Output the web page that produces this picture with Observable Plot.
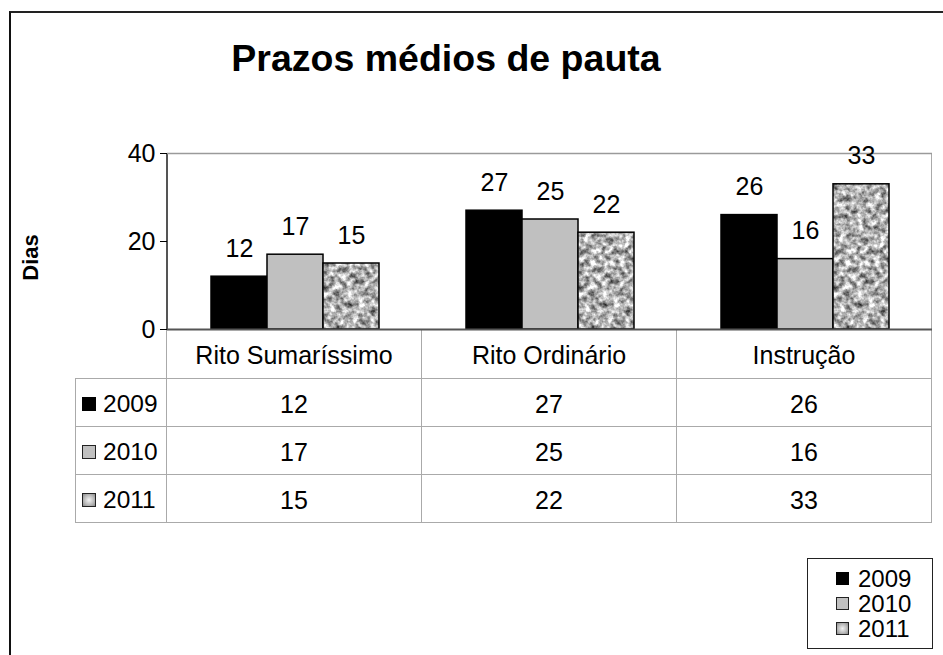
<!DOCTYPE html>
<html>
<head>
<meta charset="utf-8">
<script src="https://cdn.jsdelivr.net/npm/d3@7"></script>
<script src="https://cdn.jsdelivr.net/npm/@observablehq/plot@0.6"></script>
<style>
  html, body { margin: 0; padding: 0; background: #fff; }
  body { width: 943px; height: 655px; position: relative; overflow: hidden;
         font-family: "Liberation Sans", Arial, sans-serif; color: #000; }
  .abs { position: absolute; }
  #outer { left: 9px; top: 11px; width: 1200px; height: 1200px;
           border-left: 2px solid #111; border-top: 2px solid #222; }
  #title { left: 0; top: 40px; width: 892px; text-align: center;
           font-size: 37.5px; font-weight: bold; line-height: 37px; }
  #table { left: 75px; top: 329px; display: grid;
           grid-template-columns: 92px 255px 255px 255px;
           grid-template-rows: 50px 48px 48px 48px; }
  .cell { box-sizing: border-box; display: flex; align-items: center; justify-content: center;
          font-size: 25px; border-right: 1.5px solid #aaa; border-bottom: 1.5px solid #aaa; padding-top: 3px; }
  .rowhead { justify-content: flex-start; border-left: 1.5px solid #aaa; padding-left: 6px; font-size: 24.5px; }
  .sq { display: inline-block; box-sizing: border-box; width: 14px; height: 14px; margin-right: 7px; }
  #legend { left: 807px; top: 558px; width: 126px; height: 91px; box-sizing: border-box;
            border: 1.5px solid #222; display: flex; flex-direction: column; justify-content: center;
            padding-left: 28px; }
  .litem { display: flex; align-items: center; font-size: 24px; line-height: 25px; height: 25px; }
  .litem .sq { width: 13px; height: 13px; margin-right: 9px; }
  #chart { left: 0; top: 120px; }
  .vline { position: absolute; width: 0; }
</style>
</head>
<body>
<div id="outer" class="abs"></div>
<div id="title" class="abs">Prazos médios de pauta</div>
<div id="table" class="abs"></div>
<div id="legend" class="abs"></div>
<div class="vline" style="left:166px; top:153px; height:176px; border-left:2px solid #555;"></div>
<div class="vline" style="left:931px; top:153px; height:176px; border-left:1.5px solid #aaa;"></div>
<div id="chart" class="abs"></div>
<script>
// ---- Data ----
const categories = ["Rito Sumaríssimo", "Rito Ordinário", "Instrução"];
const years = ["2009", "2010", "2011"];
const values2009 = [12, 27, 26];
const values2010 = [17, 25, 16];
const values2011 = [15, 22, 33];
const yTicks = [0, 20, 40];
const yLabel = "Dias";

const series = [values2009, values2010, values2011];
const data = years.flatMap((yr, i) => categories.map((c, j) => ({cat: c, year: yr, value: series[i][j]})));

// swatch styles for table / legend
const swatch = {
  "2009": "background:#000;",
  "2010": "background:#c0c0c0; border:1.5px solid #222;",
  "2011": "background:radial-gradient(circle, #f4f4f4 0%, #bdbdbd 55%, #8a8a8a 100%); border:1.5px solid #222;"
};

// ---- Chart ----
const chart = Plot.plot({
  width: 943,
  height: 215,
  marginTop: 33,
  marginBottom: 6,
  marginLeft: 167,
  marginRight: 11,
  style: {fontFamily: "'Liberation Sans', Arial, sans-serif", fontSize: "25px", color: "#000",
          background: "transparent", overflow: "visible"},
  fx: {domain: categories, padding: 0, axis: null},
  x: {domain: years, paddingInner: 0, paddingOuter: 0.737, axis: null},
  y: {domain: [0, 40], ticks: yTicks, tickSize: 7, tickPadding: 5, label: null},
  color: {domain: years, range: ["#000000", "#c0c0c0", "url(#granite)"]},
  marks: [
    Plot.ruleY([40], {stroke: "#9a9a9a", strokeWidth: 1.5}),
    Plot.barY(data, {fx: "cat", x: "year", y: "value", fill: "year", stroke: "#000", strokeWidth: 1.5}),
    Plot.ruleY([0], {stroke: "#555", strokeWidth: 2}),
    Plot.text(data, {fx: "cat", x: "year", y: "value", text: d => String(d.value), dy: -28, fontSize: 25, fill: "#000"}),
    Plot.text([{cat: categories[0], t: yLabel}], {fx: "cat", text: "t", frameAnchor: "left", textAnchor: "middle",
      lineAnchor: "middle", rotate: -90, dx: -137, dy: 16, fontWeight: "bold", fontSize: 22, fill: "#000"})
  ]
});

// granite texture
const defs = d3.select(chart).insert("defs", ":first-child");
const filt = defs.append("filter").attr("id", "noiseF")
  .attr("x", 0).attr("y", 0).attr("width", "100%").attr("height", "100%")
  .attr("color-interpolation-filters", "sRGB");
filt.append("feTurbulence").attr("type", "fractalNoise").attr("baseFrequency", 0.17)
  .attr("numOctaves", 3).attr("seed", 7);
filt.append("feColorMatrix").attr("type", "matrix")
  .attr("values", "1 0 0 0 0  1 0 0 0 0  1 0 0 0 0  0 0 0 0 1");
const ct = filt.append("feComponentTransfer");
["feFuncR", "feFuncG", "feFuncB"].forEach(f => ct.append(f).attr("type", "linear").attr("slope", 1.35).attr("intercept", 0.02));
const pat = defs.append("pattern").attr("id", "granite").attr("patternUnits", "userSpaceOnUse")
  .attr("width", 300).attr("height", 300);
pat.append("rect").attr("width", 300).attr("height", 300).attr("fill", "#aaa").attr("filter", "url(#noiseF)");

document.getElementById("chart").appendChild(chart);

// ---- Data table ----
const table = document.getElementById("table");
function cell(html, cls, style) {
  const d = document.createElement("div");
  d.className = "cell " + (cls || "");
  if (style) d.setAttribute("style", style);
  d.innerHTML = html;
  table.appendChild(d);
}
cell("", "", "");
categories.forEach(c => cell(c));
years.forEach((yr, i) => {
  cell(`<span class="sq" style="${swatch[yr]}"></span>${yr}`, "rowhead");
  series[i].forEach(v => cell(String(v)));
});

// ---- Legend ----
const legend = document.getElementById("legend");
years.forEach(yr => {
  const d = document.createElement("div");
  d.className = "litem";
  d.innerHTML = `<span class="sq" style="${swatch[yr]}"></span>${yr}`;
  legend.appendChild(d);
});
</script>
</body>
</html>
